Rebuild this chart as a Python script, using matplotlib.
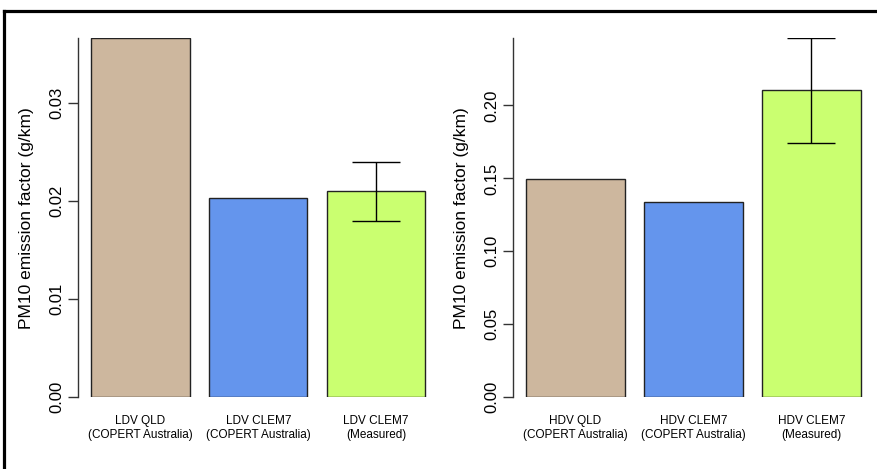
import numpy as np
import matplotlib
matplotlib.use("Agg")
import matplotlib.pyplot as plt
from matplotlib.lines import Line2D

plt.rcParams["font.family"] = ["Liberation Sans", "DejaVu Sans"]

# data
ldv_labels = ["LDV QLD\n(COPERT Australia)", "LDV CLEM7\n(COPERT Australia)", "LDV CLEM7\n(Measured)"]
ldv_values = [0.0366, 0.0203, 0.0210]
ldv_err_lo = 0.0180
ldv_err_hi = 0.0240
ldv_ticks = [0.00, 0.01, 0.02, 0.03]

hdv_labels = ["HDV QLD\n(COPERT Australia)", "HDV CLEM7\n(COPERT Australia)", "HDV CLEM7\n(Measured)"]
hdv_values = [0.1497, 0.1335, 0.2105]
hdv_err_lo = 0.1742
hdv_err_hi = 0.2460
hdv_ticks = [0.00, 0.05, 0.10, 0.15, 0.20]

colors = ["#CDB79E", "#6495ED", "#CAFF70"]
ylab = "PM10 emission factor (g/km)"

fig = plt.figure(figsize=(8.78, 4.69), dpi=100)


def panel(rect, labels, values, lo, hi, ticks):
    ax = fig.add_axes(rect)
    x = np.array([0.7, 1.9, 3.1])
    ax.bar(x, values, width=1.0, color=colors, edgecolor="#222222", linewidth=1.0)
    ax.errorbar([x[2]], [values[2]], yerr=[[values[2] - lo], [hi - values[2]]],
                fmt="none", ecolor="black", elinewidth=1.0, capsize=17.6, capthick=1.0)
    top = max(max(values), hi)
    ax.set_xlim(0.064, 3.736)
    ax.set_ylim(0, top)
    for s in ["top", "right", "bottom"]:
        ax.spines[s].set_visible(False)
    ax.spines["left"].set_color("#333333")
    ax.spines["left"].set_linewidth(1.0)
    ax.set_yticks(ticks)
    ax.set_yticklabels(["%.2f" % t for t in ticks], rotation=90, va="center",
                       fontsize=12)
    ax.tick_params(axis="y", length=7, width=1.0, color="#333333", pad=3)
    ax.set_xticks(x)
    ax.set_xticklabels(labels, fontsize=8.5, linespacing=1.3)
    ax.tick_params(axis="x", length=0, pad=12.5)
    ax.set_ylabel(ylab, fontsize=12.5, labelpad=11)
    return ax


panel([78 / 878, 71.7 / 469, 360.7 / 878, 359 / 469],
      ldv_labels, ldv_values, ldv_err_lo, ldv_err_hi, ldv_ticks)
panel([513 / 878, 71.7 / 469, 361 / 878, 359 / 469],
      hdv_labels, hdv_values, hdv_err_lo, hdv_err_hi, hdv_ticks)

# frame cut by the screenshot: only left and top edges are visible
fig.add_artist(Line2D([4 / 878, 4 / 878], [0, 1 - 11 / 469], transform=fig.transFigure,
                      color="black", linewidth=2.3, solid_capstyle="projecting"))
fig.add_artist(Line2D([4 / 878, 1], [1 - 11 / 469, 1 - 11 / 469], transform=fig.transFigure,
                      color="black", linewidth=2.3, solid_capstyle="projecting"))

fig.savefig("out.png", dpi=100)
